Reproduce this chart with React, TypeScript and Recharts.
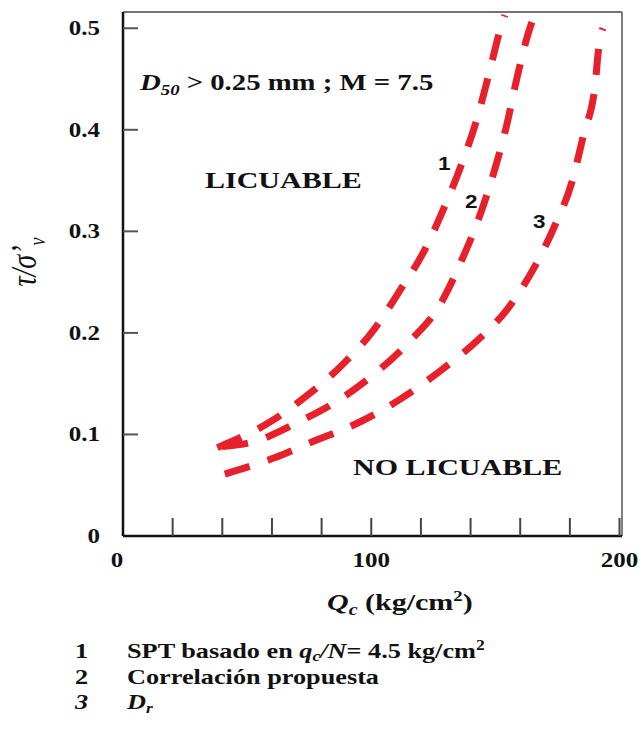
import { LineChart, Line, XAxis, YAxis, ReferenceLine } from 'recharts';

// curve 1: SPT basado en qc/N = 4.5
const qc1 = [38, 59, 74, 88.5, 101, 111.6, 121.6, 129.3, 136.5, 142.6, 147.4, 152.2, 153.8];
const tau1 = [0.087, 0.112, 0.138, 0.169, 0.203, 0.242, 0.282, 0.323, 0.367, 0.411, 0.455, 0.501, 0.513];

// curve 2: correlación propuesta
const qc2 = [40, 53, 70.5, 87, 102, 116, 127.5, 136.5, 143.5, 149.5, 154.5, 158.5, 163, 164.7];
const tau2 = [0.088, 0.093, 0.112, 0.134, 0.161, 0.193, 0.227, 0.272, 0.314, 0.359, 0.404, 0.449, 0.493, 0.506];

// curve 3: Dr
const qc3 = [41, 61, 76.5, 96, 112.5, 128, 142.5, 155, 166, 174, 181, 185.5, 190, 192, 193.3];
const tau3 = [0.061, 0.077, 0.093, 0.113, 0.136, 0.163, 0.192, 0.224, 0.266, 0.306, 0.35, 0.395, 0.441, 0.488, 0.5];

const xTicks = [0, 20, 40, 60, 80, 100, 120, 140, 160, 180, 200];
const xLabelled = [0, 100, 200];
const yTicks = [0, 0.1, 0.2, 0.3, 0.4, 0.5];
const X_MAX = 201;
const Y_MAX = 0.516;

const toPoints = (qc: number[], tau: number[]) => qc.map((q, i) => ({ qc: q, tau: tau[i] }));
const curve1 = toPoints(qc1, tau1);
const curve2 = toPoints(qc2, tau2);
const curve3 = toPoints(qc3, tau3);

const SERIF = '"Liberation Serif", "Times New Roman", serif';
const SANS = '"Liberation Sans", Arial, sans-serif';
const RED = '#e6212b';
const SX = 1.25; // the source picture is stretched sideways

function YTick(props: any) {
  const { x, y, payload } = props;
  const axisX = x + 23;
  const v = payload.value;
  return (
    <g>
      {v !== 0 && <line x1={axisX} x2={axisX + 15} y1={y} y2={y} stroke="#555" strokeWidth={2} />}
      <text transform={`translate(${x},${y + 7}) scale(${SX},1)`} textAnchor="end"
        fontFamily={SERIF} fontWeight="bold" fontSize={20} fill="#111">
        {v === 0 ? '0' : v.toFixed(1)}
      </text>
    </g>
  );
}

function XTick(props: any) {
  const { x, y, payload } = props;
  const v = payload.value;
  return (
    <g>
      {v !== 0 && <line x1={x} x2={x} y1={y} y2={y - 18} stroke="#444" strokeWidth={2} />}
      {xLabelled.includes(v) && (
        <text transform={`translate(${v === 0 ? x - 6 : x},${y + 31}) scale(${SX},1)`} textAnchor="middle"
          fontFamily={SERIF} fontWeight="bold" fontSize={20} fill="#111">
          {v}
        </text>
      )}
    </g>
  );
}

function T({ x, y, size, children, weight = 'bold', family = SERIF, italic = false }: any) {
  return (
    <text transform={`translate(${x},${y}) scale(${SX},1)`} fontFamily={family} fontSize={size}
      fontWeight={weight} fontStyle={italic ? 'italic' : 'normal'} fill="#111">
      {children}
    </text>
  );
}

export default function App() {
  const dash = {
    type: 'monotone' as const,
    dataKey: 'tau',
    stroke: RED,
    strokeWidth: 7,
    strokeDasharray: '26 19',
    dot: false,
    activeDot: false,
    isAnimationActive: false,
  };
  return (
    <div style={{ position: 'absolute', left: 0, top: 0, width: 641, height: 736, background: '#fff' }}>
      <LineChart width={641} height={736} margin={{ top: 12, right: 19, left: 63, bottom: 160 }}>
        <XAxis type="number" dataKey="qc" domain={[0, X_MAX]} ticks={xTicks} interval={0}
          height={40} tickSize={0} tickMargin={0} tickLine={false} allowDataOverflow
          axisLine={{ stroke: '#111', strokeWidth: 2.5 }} tick={<XTick />} />
        <YAxis type="number" dataKey="tau" domain={[0, Y_MAX]} ticks={yTicks} interval={0}
          width={60} tickSize={0} tickMargin={23} tickLine={false} allowDataOverflow
          axisLine={{ stroke: '#111', strokeWidth: 2.5 }} tick={<YTick />} />
        <ReferenceLine y={Y_MAX} stroke="#444" strokeWidth={1.5} />
        <ReferenceLine x={X_MAX} stroke="#555" strokeWidth={1.5} />
        <Line data={curve1} {...dash} />
        <Line data={curve2} {...dash} />
        <Line data={curve3} {...dash} />
      </LineChart>

      <svg width={641} height={736} style={{ position: 'absolute', left: 0, top: 0, pointerEvents: 'none' }}>
        {/* in-plot notes */}
        <T x={140} y={90} size={23}>
          <tspan fontStyle="italic">D</tspan>
          <tspan fontStyle="italic" fontSize={15} dy={5}>50</tspan>
          <tspan dy={-5}> &gt; 0.25 mm ; M = 7.5</tspan>
        </T>
        <T x={205} y={188} size={24}>LICUABLE</T>
        <T x={353} y={475} size={24}>NO LICUABLE</T>
        <T x={438} y={170} size={18} family={SANS}>1</T>
        <T x={465} y={208} size={18} family={SANS}>2</T>
        <T x={533} y={228} size={18} family={SANS}>3</T>

        {/* axis titles */}
        <T x={327} y={610} size={24}>
          <tspan fontStyle="italic">Q</tspan>
          <tspan fontStyle="italic" fontSize={16} dy={5}>c</tspan>
          <tspan dy={-5}> (kg/cm</tspan>
          <tspan fontSize={15} dy={-9}>2</tspan>
          <tspan dy={9}>)</tspan>
        </T>
        <text transform={`translate(36,262) rotate(-90) scale(1,${SX})`} textAnchor="middle"
          fontFamily={SERIF} fontSize={28} fontStyle="italic" fill="#111">
          <tspan>τ/σ’</tspan>
          <tspan fontSize={18} dy={7}>v</tspan>
        </text>

        {/* key */}
        <T x={75} y={658} size={21}>1</T>
        <T x={127} y={658} size={21}>
          <tspan>SPT basado en </tspan>
          <tspan fontStyle="italic">q</tspan>
          <tspan fontStyle="italic" fontSize={14} dy={3}>c</tspan>
          <tspan fontStyle="italic" dy={-3}>/N</tspan>
          <tspan>= 4.5 kg/cm</tspan>
          <tspan fontSize={14} dy={-8}>2</tspan>
        </T>
        <T x={75} y={684} size={21}>2</T>
        <T x={127} y={684} size={21}>Correlación propuesta</T>
        <T x={75} y={709} size={21} italic>3</T>
        <T x={127} y={709} size={21}>
          <tspan fontStyle="italic">D</tspan>
          <tspan fontStyle="italic" fontSize={14} dy={4}>r</tspan>
        </T>
      </svg>
    </div>
  );
}
